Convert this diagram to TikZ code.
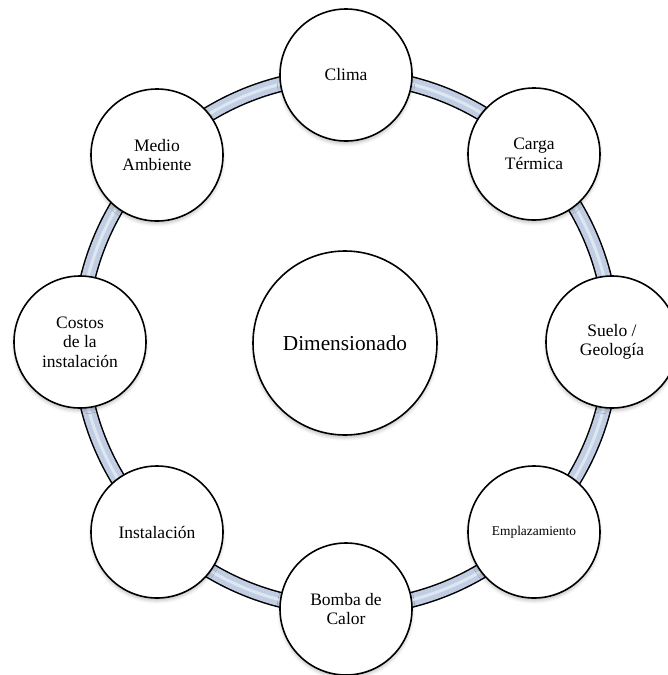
\documentclass[tikz,border=0pt]{standalone}
\usepackage{fontspec}
\setmainfont{Liberation Serif}
\usetikzlibrary{shadows.blur}
\definecolor{ringblue}{RGB}{192,205,227}
\definecolor{ringlight}{RGB}{222,230,242}
\begin{document}
\begin{tikzpicture}[x=1pt,y=-1pt,
  bubble/.style={circle, draw=black, line width=1.6pt, fill=white,
    minimum size=132pt, inner sep=0pt, align=center,
    font=\fontsize{17.5}{19.5}\selectfont,
    blur shadow={shadow xshift=0pt, shadow yshift=-3pt,
      shadow blur radius=3pt, shadow opacity=22}},
  hubbubble/.style={bubble, minimum size=184pt,
    font=\fontsize{21.3}{24}\selectfont},
  smalltext/.style={font=\fontsize{13.4}{15}\selectfont}
]
\useasboundingbox (0,0) rectangle (667,675);
\coordinate (hub) at (346,342);

% ring linking the factors
\draw[line width=16pt, black] (hub) circle[radius=266];
\draw[line width=13pt, ringblue] (hub) circle[radius=266];
\draw[line width=3pt, ringlight] (hub) circle[radius=266];

% central node
\node[hubbubble] (dim) at (345,343) {Dimensionado};

% factors around the ring
\node[bubble] (clima)   at (346,75)  {Clima};
\node[bubble] (carga)   at (534,154) {Carga\\Térmica};
\node[bubble] (suelo)   at (612,342) {Suelo /\\Geología};
\node[bubble, smalltext] (empl) at (534,532) {Emplazamiento};
\node[bubble] (bomba)   at (346,609) {Bomba de\\Calor};
\node[bubble] (inst)    at (157,532) {Instalación};
\node[bubble] (costos)  at (80,342)  {Costos\\de la\\instalación};
\node[bubble] (medio)   at (157,155) {Medio\\Ambiente};
\end{tikzpicture}
\end{document}
